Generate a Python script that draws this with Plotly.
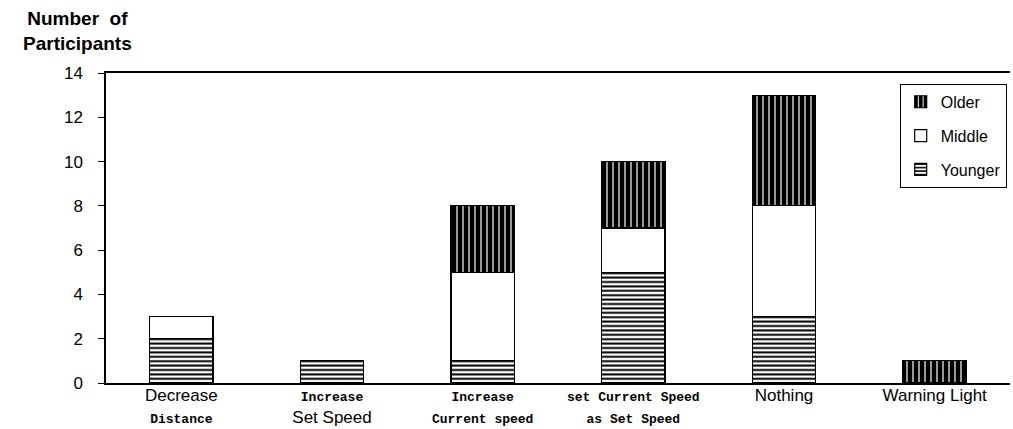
import plotly.graph_objects as go

MONO = "font-family:Liberation Mono,Courier New;font-size:13px;font-weight:bold"
SANS = "font-family:Liberation Sans,Arial;font-size:17px"

categories = ["Decrease Distance", "Increase Set Speed", "Increase Current speed",
              "set Current Speed as Set Speed", "Nothing", "Warning Light"]
tick_labels = [
    f'<span style="{SANS}">Decrease</span><br><span style="{MONO}">Distance</span>',
    f'<span style="{MONO}">Increase</span><br><span style="{SANS}">Set Speed</span>',
    f'<span style="{MONO}">Increase</span><br><span style="{MONO}">Current speed</span>',
    f'<span style="{MONO}">set Current Speed</span><br><span style="{MONO}">as Set Speed</span>',
    f'<span style="{SANS}">Nothing</span><br> ',
    f'<span style="{SANS}">Warning Light</span><br> ',
]
younger = [2, 1, 1, 5, 3, 0]
middle = [1, 0, 4, 2, 5, 0]
older = [0, 0, 3, 3, 5, 1]
y_ticks = [0, 2, 4, 6, 8, 10, 12, 14]

fig = go.Figure()
fig.add_trace(go.Bar(
    x=categories, y=younger, name="Younger", legendgroup="y", legendrank=3,
    marker=dict(color="white", line=dict(color="black", width=1.2),
                pattern=dict(shape="-", fgcolor="black", bgcolor="white",
                             size=4.4, solidity=0.45, fillmode="replace")),
))
fig.add_trace(go.Bar(
    x=categories, y=middle, name="Middle", legendgroup="m", legendrank=2,
    marker=dict(color="white", line=dict(color="black", width=1.2)),
))
fig.add_trace(go.Bar(
    x=categories, y=older, name="Older", legendgroup="o", legendrank=1,
    marker=dict(color="black", line=dict(color="black", width=1.2),
                pattern=dict(shape="|", fgcolor="white", bgcolor="black",
                             size=6, solidity=0.2, fillmode="replace")),
))

fig.update_layout(
    width=1013, height=429,
    margin=dict(l=106, r=3, t=73, b=46, autoexpand=False),
    barmode="stack", bargap=0.58,
    plot_bgcolor="white", paper_bgcolor="white",
    font=dict(family="Liberation Sans, Arial", color="black", size=17),
    showlegend=True,
    legend=dict(x=0.878, y=0.965, xanchor="left", yanchor="top",
                bordercolor="black", borderwidth=1, bgcolor="white",
                font=dict(size=16), traceorder="grouped",
                tracegroupgap=10, itemwidth=30),
    annotations=[dict(text="<b>Number  of</b><br><b>Participants</b>",
                      xref="paper", yref="paper", x=-0.032, y=1.0,
                      xanchor="center", yanchor="bottom", showarrow=False,
                      align="center", font=dict(size=19), yshift=17)],
)
fig.update_xaxes(
    tickmode="array", tickvals=categories, ticktext=tick_labels,
    tickfont=dict(family="Liberation Sans, Arial", size=17),
    showline=True, linecolor="black", linewidth=1.5, mirror=True,
    ticks="", showgrid=False, ticklabelstandoff=-4,
)
fig.update_yaxes(
    range=[0, 14], tickvals=y_ticks,
    showline=True, linecolor="black", linewidth=1.5,
    ticks="outside", ticklen=6, tickcolor="black",
    showgrid=False, zeroline=False, ticklabelstandoff=12,
)
fig.write_html("out.html", config={"displayModeBar": False},
               post_script="document.body.style.margin='0';")
